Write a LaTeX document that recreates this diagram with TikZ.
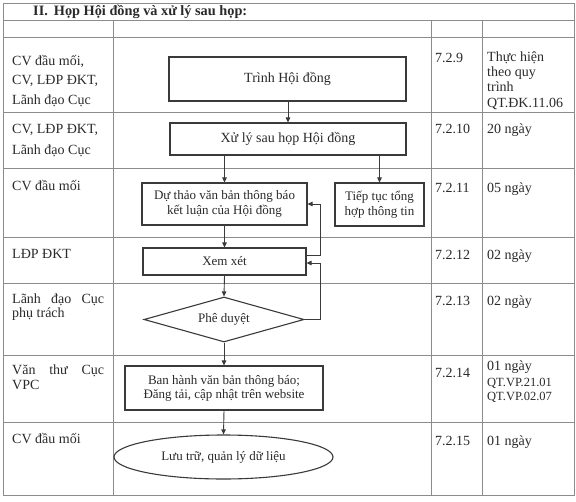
\documentclass[tikz,border=0pt]{standalone}
\usepackage{fontspec}
\setmainfont{Liberation Serif}
\usetikzlibrary{shapes.geometric,arrows.meta}
\definecolor{gridc}{HTML}{8C8C8C}
\definecolor{ink}{HTML}{2A2A2A}
\definecolor{edgec}{HTML}{3A3A3A}
\begin{document}
\begin{tikzpicture}[x=1pt,y=-1pt,
  tline/.style={draw=gridc,line width=0.9pt},
  cell/.style={anchor=base west,inner sep=0pt,text=ink,font=\fontsize{14}{16}\selectfont},
  smallcell/.style={cell,font=\fontsize{12.5}{14}\selectfont},
  titlecell/.style={cell,font=\bfseries\fontsize{14.3}{16}\selectfont},
  proc/.style={draw=edgec,line width=1.1pt,rectangle,inner sep=0pt,align=center,text=ink,font=\fontsize{13}{15}\selectfont},
  bigproc/.style={proc,font=\fontsize{14}{16}\selectfont},
  decision/.style={draw=edgec,line width=1.1pt,diamond,aspect=3.5,inner sep=0pt,text=ink,font=\fontsize{13}{15}\selectfont},
  terminal/.style={draw=edgec,line width=1.1pt,ellipse,inner sep=0pt,text=ink,font=\fontsize{13}{15}\selectfont},
  arr/.style={draw=edgec,line width=0.9pt,-{Triangle[length=5pt,width=4.5pt]}}]
\useasboundingbox (0,0) rectangle (576,501);
\fill[white] (0,0) rectangle (576,501);

% table grid
\draw[tline] (3,3) rectangle (574,495);
\foreach \yy in {20,37,112,168,237,283,355,422} \draw[tline] (3,\yy) -- (574,\yy);
\foreach \xx in {113,431,482} \draw[tline] (\xx,20) -- (\xx,495);

% title
\node[titlecell] (title) at (33,15) {II.\hspace{6pt}Họp Hội đồng và xử lý sau họp:};

% column 1
\node[cell] (r1a) at (12,65) {CV đầu mối,};
\node[cell] (r1b) at (12,84.5) {CV, LĐP ĐKT,};
\node[cell] (r1c) at (12,104) {Lãnh đạo Cục};
\node[cell] (r2a) at (12,133) {CV, LĐP ĐKT,};
\node[cell] (r2b) at (12,154) {Lãnh đạo Cục};
\node[cell] (r3a) at (12,190) {CV đầu mối};
\node[cell] (r4a) at (12,258) {LĐP ĐKT};
\node[cell] (r5a) at (12,303) {\makebox[92pt][s]{Lãnh\hfill đạo\hfill Cục}};
\node[cell] (r5b) at (12,317.5) {phụ trách};
\node[cell] (r6a) at (12,374) {\makebox[92pt][s]{Văn\hfill thư\hfill Cục}};
\node[cell] (r6b) at (12,389) {VPC};
\node[cell] (r7a) at (12,443) {CV đầu mối};

% column 3
\node[cell] (s1) at (435,62) {7.2.9};
\node[cell] (s2) at (435,133) {7.2.10};
\node[cell] (s3) at (435,192) {7.2.11};
\node[cell] (s4) at (435,259) {7.2.12};
\node[cell] (s5) at (435,305) {7.2.13};
\node[cell] (s6) at (435,377) {7.2.14};
\node[cell] (s7) at (435,445) {7.2.15};

% column 4
\node[cell] (t1a) at (487,61) {Thực hiện};
\node[cell] (t1b) at (487,76) {theo quy};
\node[cell] (t1c) at (487,91.5) {trình};
\node[cell] (t1d) at (487,107.5) {QT.ĐK.11.06};
\node[cell] (t2) at (487,133) {20 ngày};
\node[cell] (t3) at (487,192) {05 ngày};
\node[cell] (t4) at (487,259) {02 ngày};
\node[cell] (t5) at (487,305) {02 ngày};
\node[cell] (t6a) at (487,370) {01 ngày};
\node[smallcell] (t6b) at (487,386) {QT.VP.21.01};
\node[smallcell] (t6c) at (487,400) {QT.VP.02.07};
\node[cell] (t7) at (487,445) {01 ngày};

% flowchart
\node[bigproc,minimum width=237pt,minimum height=44pt] (trinh) at (287.5,79) {Trình Hội đồng};
\node[bigproc,minimum width=236pt,minimum height=32pt] (xuly) at (288,139) {Xử lý sau họp Hội đồng};
\node[proc,minimum width=165pt,minimum height=42pt] (duthao) at (224.5,204) {Dự thảo văn bản thông báo\\kết luận của Hội đồng};
\node[proc,minimum width=89pt,minimum height=43pt] (tieptuc) at (379.5,204.5) {Tiếp tục tổng\\hợp thông tin};
\node[proc,minimum width=163pt,minimum height=27pt] (xemxet) at (224.5,261.5) {Xem xét};
\node[decision,minimum width=160pt,minimum height=45pt] (phe) at (224,319.5) {Phê duyệt};
\node[proc,minimum width=198pt,minimum height=44pt,font=\fontsize{13}{14}\selectfont] (banhanh) at (224,388) {Ban hành văn bản thông báo;\\Đăng tải, cập nhật trên website};
\node[terminal,minimum width=219pt,minimum height=44pt] (luu) at (223.5,457) {Lưu trữ, quản lý dữ liệu};

% connectors
\draw[arr] (trinh.south -| xuly.north) -- (xuly.north);
\draw[arr] (duthao.north |- xuly.south) -- (duthao.north);
\draw[arr] (tieptuc.north |- xuly.south) -- (tieptuc.north);
\draw[arr] (duthao.south) -- (duthao.south |- xemxet.north);
\draw[arr] (xemxet.south) -- (phe.north);
\draw[arr] (phe.south) -- (banhanh.north);
\draw[arr] (banhanh.south) -- (luu.north);
\draw[arr] ([yshift=6.5pt]xemxet.east) -- ++(14,0) |- (duthao.east);
\draw[arr] (phe.east) -- ++(16,0) |- ([yshift=-1.5pt]xemxet.east);
\end{tikzpicture}
\end{document}
